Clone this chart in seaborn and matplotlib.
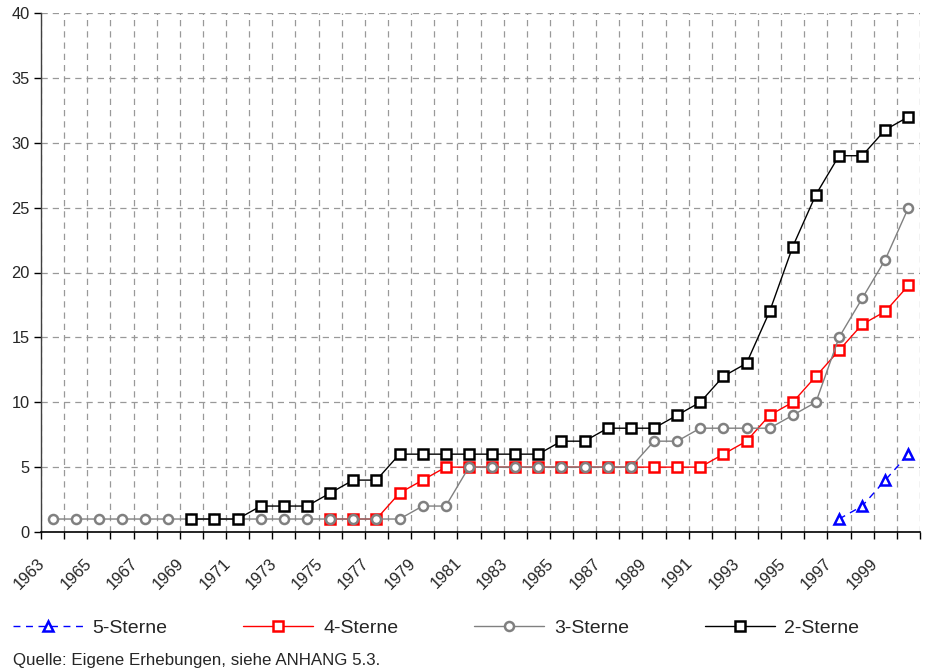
import matplotlib
matplotlib.use("Agg")
import matplotlib.pyplot as plt
import matplotlib.transforms as mtransforms
import seaborn as sns
import numpy as np
import pandas as pd
from matplotlib.lines import Line2D

years = list(range(1963, 2001))
nan = np.nan
s5 = [nan]*34 + [1, 2, 4, 6]
s4 = [nan]*12 + [1, 1, 1, 3, 4, 5, 5, 5, 5, 5, 5, 5, 5, 5, 5, 5, 5, 6, 7, 9, 10, 12, 14, 16, 17, 19]
s3 = [1]*16 + [2, 2, 5, 5, 5, 5, 5, 5, 5, 5, 7, 7, 8, 8, 8, 8, 9, 10, 15, 18, 21, 25]
s2 = [nan]*6 + [1, 1, 1, 2, 2, 2, 3, 4, 4, 6, 6, 6, 6, 6, 6, 6, 7, 7, 8, 8, 8, 9, 10, 12, 13, 17, 22, 26, 29, 29, 31, 32]
names = ["5-Sterne", "4-Sterne", "3-Sterne", "2-Sterne"]
yticks = [0, 5, 10, 15, 20, 25, 30, 35, 40]
source = "Quelle: Eigene Erhebungen, siehe ANHANG 5.3."

sns.set_theme(style="white")
plt.rcParams["font.family"] = ["Liberation Sans", "DejaVu Sans"]

fig = plt.figure(figsize=(9.32, 6.72), dpi=100)
ax = fig.add_axes([41/932, 1-532/672, (920-41)/932, (532-13)/672])

idx = np.arange(len(years))
df = pd.DataFrame({"idx": idx, "s5": s5, "s4": s4, "s3": s3, "s2": s2})

styles = [
    ("s5", "#0000ff", "^", (0, (5, 4)), 2),
    ("s4", "#ff0000", "s", "-", 3),
    ("s3", "#808080", "o", "-", 4),
    ("s2", "#000000", "s", "-", 5),
]
handles = []
for (col, c, m, ls, z), name in zip(styles, names):
    d = df.dropna(subset=[col])
    sns.lineplot(data=d, x="idx", y=col, ax=ax, color=c, linewidth=1.0,
                 linestyle=ls, marker=m, markersize=6.5, markeredgewidth=1.8,
                 markerfacecolor="white", markeredgecolor=c, zorder=z)
    handles.append(Line2D([], [], color=c, linewidth=1.0, linestyle=ls, marker=m,
                          markersize=6.5, markeredgewidth=1.8,
                          markerfacecolor="white", markeredgecolor=c))

ax.set_xlim(-0.5, len(years) - 0.5)
ax.set_ylim(0, 40)
ax.set_yticks(yticks)
ax.set_yticklabels([str(v) for v in yticks], fontsize=11.8)
lab_idx = [i for i, y in enumerate(years) if (y - 1963) % 2 == 0 and y < 2000]
ax.set_xticks(lab_idx)
ax.set_xticklabels([str(years[i]) for i in lab_idx], rotation=45, ha="right",
                   rotation_mode="anchor", fontsize=11.8)
ax.set_xticks(np.arange(-0.5, len(years), 1.0), minor=True)
ax.tick_params(axis="x", which="major", length=0, pad=6)
ax.tick_params(axis="x", which="minor", length=5, width=1, color="black", direction="out", bottom=True)
ax.tick_params(axis="y", which="major", length=5, width=1, color="black", direction="out", left=True, pad=3)
ax.set_xlabel("")
ax.set_ylabel("")
shift = mtransforms.ScaledTranslation(-15/100, -15/100, fig.dpi_scale_trans)
for lab in ax.get_xticklabels():
    lab.set_transform(lab.get_transform() + shift)

gridkw = dict(color="#999999", linewidth=0.9, linestyle=(0, (5, 4)))
ax.grid(False)
ax.xaxis.grid(True, which="minor", **gridkw)
ax.yaxis.grid(True, which="major", **gridkw)
ax.set_axisbelow(True)

for s in ["top", "right"]:
    ax.spines[s].set_visible(False)
ax.spines["left"].set_color("#404040")
ax.spines["bottom"].set_color("black")
ax.spines["left"].set_linewidth(1.0)
ax.spines["bottom"].set_linewidth(1.2)

fig.legend(handles, names, loc="center left", bbox_to_anchor=(5/932, 1-628/672),
           ncol=4, frameon=False, fontsize=14, handlelength=3.6, handletextpad=0.5,
           columnspacing=3.9, borderaxespad=0)
fig.text(13/932, 1-660/672, source, fontsize=12.2, ha="left", va="center")

fig.savefig("out.png", dpi=100)
